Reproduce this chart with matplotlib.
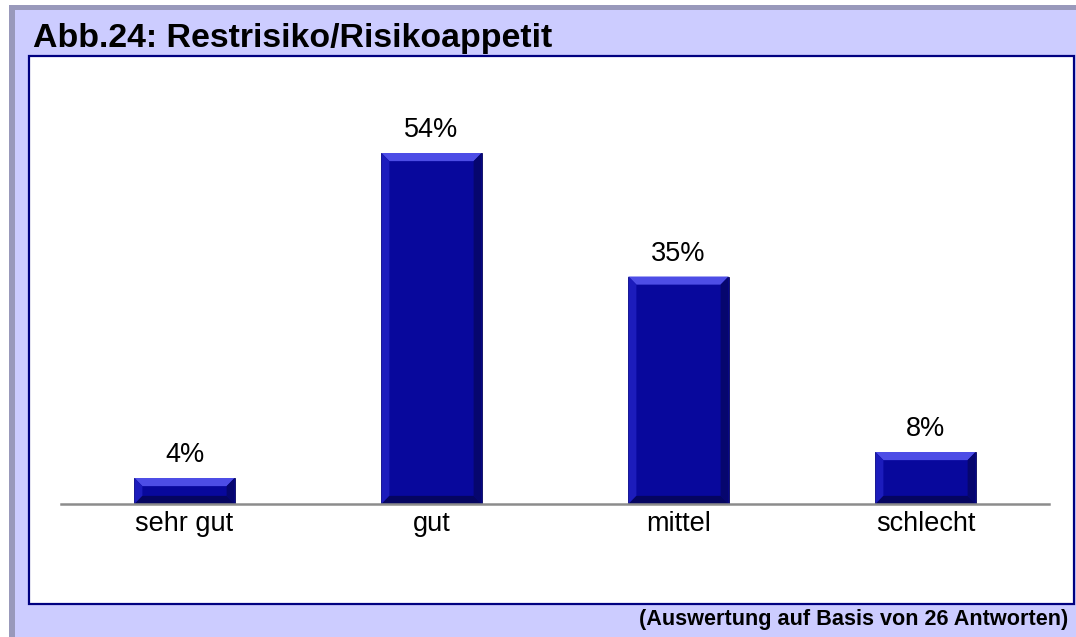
import matplotlib.pyplot as plt
from matplotlib.patches import Rectangle, Polygon

plt.rcParams['font.family'] = ['Liberation Sans', 'DejaVu Sans']

# daten
categories = ['sehr gut', 'gut', 'mittel', 'schlecht']
values = [4, 54, 35, 8]
labels = ['4%', '54%', '35%', '8%']
title = 'Abb.24: Restrisiko/Risikoappetit'
footnote = '(Auswertung auf Basis von 26 Antworten)'

W, H = 1076, 637
fig = plt.figure(figsize=(W / 100, H / 100), dpi=100)


def fr(x, y, w, h):
    # pixel -> figure fraction (y from top)
    return [x / W, 1 - (y + h) / H, w / W, h / H]


# hintergrund-rahmen
fig.patches.append(Rectangle((9 / W, 0), 1, 1 - 5 / H, transform=fig.transFigure,
                             facecolor='#9999bb', edgecolor='none', zorder=0))
fig.patches.append(Rectangle((15 / W, 0), 1, 1 - 10 / H, transform=fig.transFigure,
                             facecolor='#ccccff', edgecolor='none', zorder=0))
fig.patches.append(Rectangle((29 / W, 1 - 604 / H), (1074 - 29) / W, (604 - 56) / H,
                             transform=fig.transFigure, facecolor='white',
                             edgecolor='#000080', linewidth=1.6, zorder=1))

fig.text(33 / W, 1 - 38 / H, title, fontsize=24.4, fontweight='bold', va='center', ha='left')
fig.text(1068 / W, 1 - 620 / H, footnote, fontsize=15.6, fontweight='bold', va='center', ha='right')

# achse
ax = fig.add_axes(fr(61, 100, 1049 - 61, 504 - 100))
ax.set_zorder(2)
ax.patch.set_alpha(0)
x = list(range(len(categories)))
bw = 0.405
ymax = 404 / 6.5
ax.set_xlim(-0.5, 3.5)
ax.set_ylim(0, ymax)

bars = ax.bar(x, values, width=bw, color='#08089c', edgecolor='#05055a', linewidth=0.6, zorder=3)

# bevel-effekt
bx = 0.032
by = 1.25
for b in bars:
    x0 = b.get_x()
    x1 = x0 + b.get_width()
    y1 = b.get_height()
    by_ = min(by, y1 / 3)
    top = Polygon([(x0, y1), (x1, y1), (x1 - bx, y1 - by_), (x0 + bx, y1 - by_)],
                  closed=True, facecolor='#4d4de6', edgecolor='none', zorder=4)
    left = Polygon([(x0, 0), (x0, y1), (x0 + bx, y1 - by_), (x0 + bx, by_)],
                   closed=True, facecolor='#1c1cbc', edgecolor='none', zorder=4)
    right = Polygon([(x1, 0), (x1, y1), (x1 - bx, y1 - by_), (x1 - bx, by_)],
                    closed=True, facecolor='#06066e', edgecolor='none', zorder=4)
    bottom = Polygon([(x0, 0), (x1, 0), (x1 - bx, by_), (x0 + bx, by_)],
                     closed=True, facecolor='#050560', edgecolor='none', zorder=4)
    for p in (top, left, right, bottom):
        ax.add_patch(p)

for xi, v, lab in zip(x, values, labels):
    ax.annotate(lab, (xi, v), xytext=(0, 7), textcoords='offset points',
                ha='center', va='bottom', fontsize=19.5)

ax.set_xticks(x)
ax.set_xticklabels(categories, fontsize=19.5)
ax.tick_params(axis='x', length=0, pad=5)
ax.set_yticks([])
for s in ('left', 'right', 'top'):
    ax.spines[s].set_visible(False)
ax.spines['bottom'].set_color('#8c8c8c')
ax.spines['bottom'].set_linewidth(1.8)
ax.spines['bottom'].set_zorder(5)

fig.savefig('out.png', dpi=100)
